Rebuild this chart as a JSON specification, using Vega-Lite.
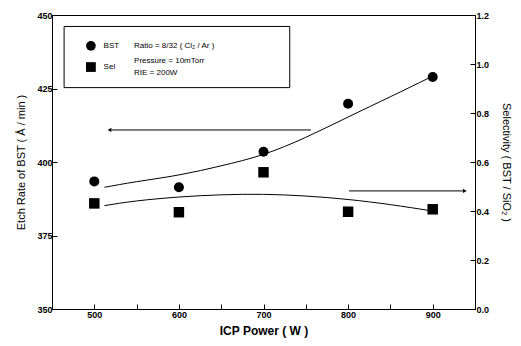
{
  "$schema": "https://vega.github.io/schema/vega-lite/v6.json",
  "width": 423,
  "height": 294,
  "autosize": {"type": "none"},
  "padding": {"left": 52, "top": 15, "right": 46, "bottom": 37},
  "background": "white",
  "config": {
    "view": {"stroke": "black", "strokeWidth": 1},
    "font": "Liberation Sans",
    "axis": {
      "domainColor": "black", "tickColor": "black", "labelColor": "black", "titleColor": "black",
      "grid": false, "tickSize": -5, "labelFontSize": 9, "labelFont": "Liberation Sans", "labelFontWeight": "bold",
      "titleFont": "Liberation Sans", "titleFontWeight": "normal", "titleFontSize": 11
    }
  },
  "datasets": {
    "pts": [
      {"power": 500, "rate": 393.4, "sel": 0.431},
      {"power": 600, "rate": 391.4, "sel": 0.395},
      {"power": 700, "rate": 403.5, "sel": 0.558},
      {"power": 800, "rate": 419.8, "sel": 0.397},
      {"power": 900, "rate": 428.9, "sel": 0.407}
    ],
    "bstfit": [
      {"power": 512, "rate": 391.4},
      {"power": 550, "rate": 393.3},
      {"power": 600, "rate": 395.6},
      {"power": 650, "rate": 398.7},
      {"power": 700, "rate": 402.6},
      {"power": 750, "rate": 408.4},
      {"power": 800, "rate": 415.3},
      {"power": 850, "rate": 422.2},
      {"power": 895, "rate": 428.5}
    ],
    "selfit": [
      {"power": 512, "sel": 0.422},
      {"power": 550, "sel": 0.441},
      {"power": 600, "sel": 0.457},
      {"power": 650, "sel": 0.466},
      {"power": 700, "sel": 0.468},
      {"power": 750, "sel": 0.461},
      {"power": 800, "sel": 0.447},
      {"power": 850, "sel": 0.426},
      {"power": 896, "sel": 0.402}
    ],
    "leftarrow": [{"power": 756, "power2": 520, "rate": 410.9, "head": 518}],
    "rightarrow": [{"power": 801, "power2": 936, "sel": 0.482, "head": 938}],
    "box": [{"power": 464.3, "power2": 731, "rate": 446.1, "rate2": 425.3}],
    "legsym": [
      {"power": 496, "rate": 439.5, "shape": "circle"},
      {"power": 496, "rate": 432.3, "shape": "square"}
    ],
    "legtext": [
      {"power": 511, "rate": 439.5, "label": "BST"},
      {"power": 511, "rate": 432.3, "label": "Sel"},
      {"power": 547, "rate": 439.5, "label": "Ratio = 8/32 ( Cl₂ / Ar )"},
      {"power": 547, "rate": 434.2, "label": "Pressure = 10mTorr"},
      {"power": 547, "rate": 430.4, "label": "RIE = 200W"}
    ]
  },
  "resolve": {"scale": {"y": "independent"}},
  "layer": [
    {
      "layer": [
        {
          "data": {"name": "box"},
          "mark": {"type": "rect", "fill": "white", "stroke": "black", "strokeWidth": 1},
          "encoding": {
            "x": {"field": "power", "type": "quantitative", "scale": {"domain": [450, 950], "nice": false}, "axis": {"values": [450, 500, 550, 600, 650, 700, 750, 800, 850, 900, 950], "labelExpr": "datum.value % 100 == 0 ? datum.label : ''", "title": "ICP Power ( W )", "titleFontWeight": "bold", "titleFontSize": 12, "labelPadding": 6, "titlePadding": 6}},
            "x2": {"field": "power2"},
            "y": {"field": "rate", "type": "quantitative", "scale": {"domain": [350, 450], "nice": false}, "axis": {"values": [350, 362.5, 375, 387.5, 400, 412.5, 425, 437.5, 450], "labelExpr": "datum.value % 25 == 0 ? datum.value : ''", "title": "Etch Rate of BST ( Å / min )", "labelPadding": 5, "titlePadding": 10}},
            "y2": {"field": "rate2"}
          }
        },
        {
          "data": {"name": "legsym"},
          "mark": {"type": "point", "filled": true, "color": "black", "opacity": 1, "size": 95},
          "encoding": {
            "x": {"field": "power", "type": "quantitative"},
            "y": {"field": "rate", "type": "quantitative"},
            "shape": {"field": "shape", "type": "nominal", "scale": {"domain": ["circle", "square"], "range": ["circle", "square"]}, "legend": null}
          }
        },
        {
          "data": {"name": "legtext"},
          "mark": {"type": "text", "align": "left", "baseline": "middle", "fontSize": 8, "color": "black", "font": "Liberation Sans"},
          "encoding": {
            "x": {"field": "power", "type": "quantitative"},
            "y": {"field": "rate", "type": "quantitative"},
            "text": {"field": "label"}
          }
        },
        {
          "data": {"name": "bstfit"},
          "mark": {"type": "line", "interpolate": "natural", "color": "black", "strokeWidth": 1},
          "encoding": {
            "x": {"field": "power", "type": "quantitative"},
            "y": {"field": "rate", "type": "quantitative"}
          }
        },
        {
          "data": {"name": "pts"},
          "mark": {"type": "point", "shape": "circle", "filled": true, "color": "black", "opacity": 1, "size": 100},
          "encoding": {
            "x": {"field": "power", "type": "quantitative"},
            "y": {"field": "rate", "type": "quantitative"}
          }
        },
        {
          "data": {"name": "leftarrow"},
          "mark": {"type": "rule", "color": "black", "strokeWidth": 1},
          "encoding": {
            "x": {"field": "power", "type": "quantitative"},
            "x2": {"field": "power2"},
            "y": {"field": "rate", "type": "quantitative"}
          }
        },
        {
          "data": {"name": "leftarrow"},
          "mark": {"type": "point", "shape": "triangle-left", "filled": true, "color": "black", "opacity": 1, "size": 18},
          "encoding": {
            "x": {"field": "head", "type": "quantitative"},
            "y": {"field": "rate", "type": "quantitative"}
          }
        }
      ]
    },
    {
      "layer": [
        {
          "data": {"name": "selfit"},
          "mark": {"type": "line", "interpolate": "natural", "color": "black", "strokeWidth": 1},
          "encoding": {
            "x": {"field": "power", "type": "quantitative"},
            "y": {"field": "sel", "type": "quantitative", "scale": {"domain": [0, 1.2], "nice": false}, "axis": {"orient": "right", "values": [0, 0.1, 0.2, 0.3, 0.4, 0.5, 0.6, 0.7, 0.8, 0.9, 1.0, 1.1, 1.2], "labelExpr": "round(datum.value*10) % 2 == 0 ? format(datum.value, '.1f') : ''", "title": "Selectivity ( BST / SiO₂ )", "titleAngle": 90, "labelPadding": 6, "titlePadding": 12}}
          }
        },
        {
          "data": {"name": "pts"},
          "mark": {"type": "point", "shape": "square", "filled": true, "color": "black", "opacity": 1, "size": 110},
          "encoding": {
            "x": {"field": "power", "type": "quantitative"},
            "y": {"field": "sel", "type": "quantitative"}
          }
        },
        {
          "data": {"name": "rightarrow"},
          "mark": {"type": "rule", "color": "black", "strokeWidth": 1},
          "encoding": {
            "x": {"field": "power", "type": "quantitative"},
            "x2": {"field": "power2"},
            "y": {"field": "sel", "type": "quantitative"}
          }
        },
        {
          "data": {"name": "rightarrow"},
          "mark": {"type": "point", "shape": "triangle-right", "filled": true, "color": "black", "opacity": 1, "size": 18},
          "encoding": {
            "x": {"field": "head", "type": "quantitative"},
            "y": {"field": "sel", "type": "quantitative"}
          }
        }
      ]
    }
  ]
}
